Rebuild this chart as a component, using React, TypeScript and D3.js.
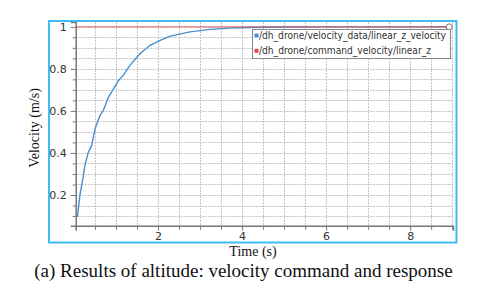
import React, { useEffect, useRef } from 'react';
import * as d3 from 'd3';

// measured response of the drone (linear z velocity)
const timeData = [0.08, 0.14, 0.21, 0.26, 0.34, 0.42, 0.50, 0.62, 0.70, 0.82, 0.94, 1.06, 1.17, 1.33, 1.57, 1.81, 2.05, 2.29, 2.76, 3.24, 3.71, 4.2, 5.0, 6.0, 7.0, 8.0, 8.93];
const velocityData = [0.095, 0.198, 0.277, 0.341, 0.404, 0.436, 0.515, 0.579, 0.603, 0.666, 0.705, 0.745, 0.769, 0.817, 0.872, 0.912, 0.936, 0.956, 0.976, 0.988, 0.994, 0.997, 0.999, 1.0, 1.0, 1.0, 1.0];

// commanded velocity
const commandTime = [0.06, 8.93];
const commandData = [1, 1];

const xTicks = [2, 4, 6, 8];
const yTicks = [0.2, 0.4, 0.6, 0.8, 1];
const legendLabels = ['/dh_drone/velocity_data/linear_z_velocity', '/dh_drone/command_velocity/linear_z'];
const legendWidths = [187, 172];
const colors = ['#4a8fd0', '#e04848'];

const App: React.FC = () => {
  const svgRef = useRef<SVGSVGElement>(null);

  useEffect(() => {
    if (!svgRef.current) return;
    const svg = d3.select(svgRef.current);
    svg.selectAll('*').remove();

    const left = 75.7, right = 453, top = 22, bottom = 225.7;
    const x = d3.scaleLinear().domain([0.04, 9.02]).range([left, right]);
    const y = d3.scaleLinear().domain([0.054, 1.023]).range([bottom, top]);

    const xMinor = d3.range(0.5, 9.01, 0.5).filter(v => !xTicks.includes(v));
    const yMinor = d3.range(0.1, 1.001, 0.05).map(v => +v.toFixed(2)).filter(v => !yTicks.includes(v));

    // grid
    const grid = svg.append('g').attr('stroke', '#c4c4c4').attr('stroke-dasharray', '2,1').attr('stroke-width', 1);
    grid.selectAll('.vg').data(d3.range(0.5, 9.01, 0.5)).enter().append('line')
      .attr('x1', d => Math.round(x(d)) + 0.5).attr('x2', d => Math.round(x(d)) + 0.5)
      .attr('y1', top).attr('y2', bottom);
    grid.selectAll('.hg').data(d3.range(0.1, 1.001, 0.05)).enter().append('line')
      .attr('y1', d => Math.round(y(d)) + 0.5).attr('y2', d => Math.round(y(d)) + 0.5)
      .attr('x1', left).attr('x2', right);

    // axes
    const fmt = (d: any) => d3.format('~g')(d);
    const yAxis = svg.append('g').attr('transform', `translate(${left},0)`)
      .call(d3.axisLeft(y).tickValues(yTicks).tickSize(5).tickPadding(4).tickFormat(fmt));
    svg.append('g').attr('transform', `translate(${left},0)`)
      .call(d3.axisLeft(y).tickValues(yMinor).tickSize(3).tickFormat(() => ''))
      .select('.domain').remove();
    const xAxis = svg.append('g').attr('transform', `translate(0,${bottom})`)
      .call(d3.axisBottom(x).tickValues(xTicks).tickSize(5).tickPadding(2).tickFormat(fmt));
    svg.append('g').attr('transform', `translate(0,${bottom})`)
      .call(d3.axisBottom(x).tickValues(xMinor).tickSize(4).tickFormat(() => ''))
      .select('.domain').remove();

    svg.selectAll('.domain').attr('stroke', '#777').attr('stroke-width', 1.5);
    svg.selectAll('.tick line').attr('stroke', '#777');
    [yAxis, xAxis].forEach(a => a.selectAll('text')
      .attr('fill', '#333').style('font-family', 'DejaVu Sans').style('font-size', '11px'));

    // series
    const line = d3.line<number>().x((_, i) => x(timeData[i])).y(d => y(d));
    svg.append('path').datum(velocityData).attr('d', line)
      .attr('fill', 'none').attr('stroke', colors[0]).attr('stroke-width', 1.4);
    const cmdLine = d3.line<number>().x((_, i) => x(commandTime[i])).y(d => y(d));
    svg.append('path').datum(commandData).attr('d', cmdLine)
      .attr('fill', 'none').attr('stroke', colors[1]).attr('stroke-width', 1).attr('opacity', 0.85);

    svg.append('circle').attr('cx', x(commandTime[1])).attr('cy', y(commandData[1])).attr('r', 3)
      .attr('fill', 'white').attr('stroke', '#777');

    // legend
    const lg = svg.append('g');
    lg.append('rect').attr('x', 252.5).attr('y', 29.5).attr('width', 198).attr('height', 29)
      .attr('fill', 'white').attr('stroke', '#888');
    legendLabels.forEach((lab, i) => {
      lg.append('rect').attr('x', 254.5).attr('y', 33.5 + i * 15.3).attr('width', 4).attr('height', 4).attr('fill', colors[i]);
      lg.append('text').attr('x', 259).attr('y', 39 + i * 15.3).text(lab)
        .attr('textLength', legendWidths[i]).attr('lengthAdjust', 'spacingAndGlyphs')
        .attr('fill', '#333').style('font-family', 'DejaVu Sans').style('font-size', '10px');
    });

    // titles
    svg.append('text').attr('x', 253).attr('y', 256).attr('text-anchor', 'middle')
      .style('font-family', 'Liberation Serif').style('font-size', '14px').attr('fill', '#111').text('Time (s)');
    svg.append('text').attr('transform', 'translate(38.5,128) rotate(-90)').attr('text-anchor', 'middle')
      .style('font-family', 'Liberation Serif').style('font-size', '14px').attr('fill', '#111').text('Velocity (m/s)');

    // outer frame
    svg.append('rect').attr('x', 49).attr('y', 21).attr('width', 407.5).attr('height', 221.5)
      .attr('fill', 'none').attr('stroke', '#3dbdf0').attr('stroke-width', 2);

    svg.append('text').attr('x', 243.5).attr('y', 276.5).attr('text-anchor', 'middle')
      .style('font-family', 'Liberation Serif').style('font-size', '19px').attr('fill', '#111')
      .text('(a) Results of altitude: velocity command and response');
  }, []);

  return (
    <div style={{ position: 'absolute', left: 0, top: 0, background: 'white' }}>
      <svg ref={svgRef} width={480} height={295} style={{ display: 'block' }} />
    </div>
  );
};

export default App;
